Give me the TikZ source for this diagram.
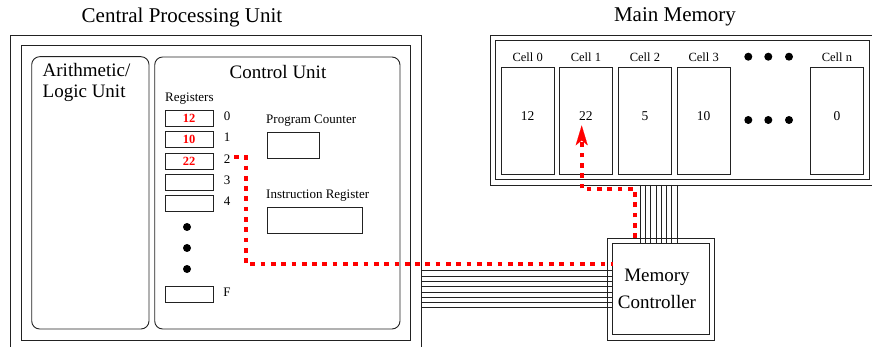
\documentclass[tikz,border=0pt]{standalone}
\usepackage{fontspec}
\setmainfont{Liberation Serif}
\usetikzlibrary{arrows.meta,calc}
\definecolor{ln}{HTML}{222222}
\definecolor{rd}{HTML}{FF0000}
\tikzset{
  box/.style={draw=ln, line width=0.9pt, inner sep=0pt, outer sep=0pt, anchor=north west},
  rbox/.style={box, rounded corners=8pt},
  title/.style={font=\fontsize{21}{24}\selectfont, inner sep=0pt},
  unit/.style={font=\fontsize{19}{21}\selectfont, inner sep=0pt},
  small/.style={font=\fontsize{13}{15}\selectfont, inner sep=0pt},
  regval/.style={font=\fontsize{12.5}{14}\selectfont\bfseries, text=rd},
  celllab/.style={font=\fontsize{12.5}{14}\selectfont, inner sep=0pt},
  cellval/.style={font=\fontsize{13.5}{15}\selectfont, inner sep=0pt},
  bus/.style={draw=ln, line width=0.8pt},
  redpath/.style={draw=rd, line width=4pt, dash pattern=on 4.7pt off 5.6pt},
  dot/.style={fill=black, circle, inner sep=0pt, minimum size=8pt},
}
\begin{document}
\begin{tikzpicture}[x=1pt, y=-1pt]
\useasboundingbox (0,0) rectangle (872,347);
% CPU
\node[box, minimum width=410.3pt, minimum height=330pt] (cpuOuter) at (10.7,35) {};
\node[box, minimum width=389pt, minimum height=294.3pt] (cpuInner) at (21,45.7) {};
\node[rbox, minimum width=117.3pt, minimum height=272.3pt] (alu) at (31.7,56.7) {};
\node[rbox, minimum width=245.3pt, minimum height=272pt] (cu) at (154.7,57) {};
\node[title] (cpuTitle) at (182,17) {Central Processing Unit};
\node[unit, align=left, anchor=west, font=\fontsize{19}{21}\selectfont] (aluText) at (42.5,82.5) {Arithmetic/\\Logic Unit};
\node[unit] (cuText) at (278,72) {Control Unit};
\node[small, anchor=west] (regText) at (165,99) {Registers};
% registers
\node[box, minimum width=48pt, minimum height=16pt] (reg0) at (165,110) {};
\node[box, minimum width=48pt, minimum height=16pt] (reg1) at (165,131.5) {};
\node[box, minimum width=48pt, minimum height=16pt] (reg2) at (165,153) {};
\node[box, minimum width=48pt, minimum height=16pt] (reg3) at (165,174.3) {};
\node[box, minimum width=48pt, minimum height=16pt] (reg4) at (165,195.5) {};
\node[box, minimum width=48pt, minimum height=16pt] (regF) at (165,286) {};
\node[regval] (v0) at (reg0.center) {12};
\node[regval] (v1) at (reg1.center) {10};
\node[regval] (v2) at (reg2.center) {22};
\node[small] (l0) at (227,116) {0};
\node[small] (l1) at (227,137.5) {1};
\node[small] (l2) at (227,159) {2};
\node[small] (l3) at (227,180) {3};
\node[small] (l4) at (227,201.5) {4};
\node[small] (lF) at (227,292) {F};
\node[dot] (rd1) at (187,227) {};
\node[dot] (rd2) at (187,248) {};
\node[dot] (rd3) at (187,269) {};
% PC and IR
\node[small, anchor=west] (pcText) at (266,121) {Program Counter};
\node[box, minimum width=52pt, minimum height=26pt] (pc) at (267,132) {};
\node[small, anchor=west] (irText) at (266,196) {Instruction Register};
\node[box, minimum width=95pt, minimum height=26pt] (ir) at (267,207) {};
% Main memory
\node[title] (memTitle) at (675,17) {Main Memory};
\node[box, minimum width=400pt, minimum height=150pt] (memOuter) at (490,35) {};
\node[box, minimum width=373.3pt, minimum height=138.6pt] (memInner) at (495.7,40.7) {};
\node[box, minimum width=53.3pt, minimum height=106.7pt] (c0) at (501,67.3) {};
\node[box, minimum width=53.3pt, minimum height=106.7pt] (c1) at (559.3,67.3) {};
\node[box, minimum width=53.3pt, minimum height=106.7pt] (c2) at (618.3,67.3) {};
\node[box, minimum width=53.3pt, minimum height=106.7pt] (c3) at (677,67.3) {};
\node[box, minimum width=53.3pt, minimum height=106.7pt] (cn) at (810.3,67.3) {};
\node[celllab] (cl0) at (c0.north |- 0,57.3) {Cell 0};
\node[celllab] (cl1) at (c1.north |- 0,57.3) {Cell 1};
\node[celllab] (cl2) at (c2.north |- 0,57.3) {Cell 2};
\node[celllab] (cl3) at (c3.north |- 0,57.3) {Cell 3};
\node[celllab] (cln) at (cn.north |- 0,57.3) {Cell n};
\node[cellval] (cv0) at (c0.center |- 0,115.7) {12};
\node[cellval] (cv1) at (c1.center |- 0,115.7) {22};
\node[cellval] (cv2) at (c2.center |- 0,115.7) {5};
\node[cellval] (cv3) at (c3.center |- 0,115.7) {10};
\node[cellval] (cvn) at (cn.center |- 0,115.7) {0};
\node[dot] (md1) at (748.3,56.7) {};
\node[dot] (md2) at (768.3,56.7) {};
\node[dot] (md3) at (789,56.7) {};
\node[dot] (md4) at (748.3,120) {};
\node[dot] (md5) at (768.3,120) {};
\node[dot] (md6) at (789,120) {};
% Memory controller
\node[box, minimum width=106.3pt, minimum height=102pt] (mcOuter) at (607.7,238) {};
\node[box, minimum width=96.3pt, minimum height=91pt] (mcInner) at (612.7,243) {};
\node[unit, align=center, font=\fontsize{19}{27}\selectfont] (mcText) at (657,288.5) {Memory\\Controller};
% buses
\foreach \y in {270.7,276,281.3,286.6,291.9,297.2,302.5,307.8}
  \draw[bus] (cpuOuter.east |- 0,\y) -- (mcInner.west |- 0,\y);
\foreach \x in {640,645.3,650.6,655.9,661.2,666.5,671.8,677.1}
  \draw[bus] (memOuter.south -| \x,0) -- (mcInner.north -| \x,0);
% red paths
\coordinate (s0) at (234,157);
\coordinate (s1) at (246,157);
\draw[redpath] (s0) -- (s1) |- (mcInner.west |- 0,264.3);
\coordinate (t1) at (635,189);
\coordinate (tip) at ($(cv1.south -| 581.7,0)+(0,5)$);
\draw[redpath, -{Stealth[length=20pt,width=12pt,inset=5pt,line width=0.1pt]}] (mcOuter.north -| t1) -- (t1) -| (tip);
\end{tikzpicture}
\end{document}
